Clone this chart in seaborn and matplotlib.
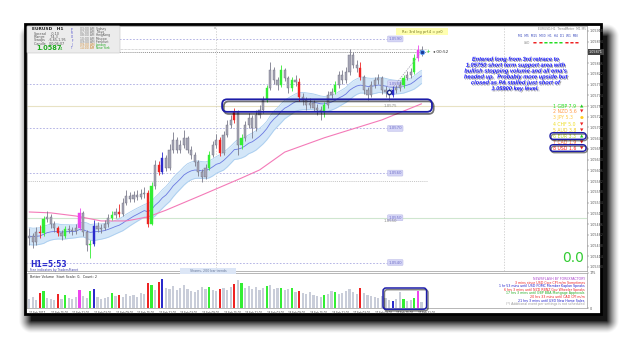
import numpy as np
import pandas as pd
import matplotlib
matplotlib.use('Agg')
import matplotlib.pyplot as plt
import matplotlib.patheffects as pe
from matplotlib.patches import FancyBboxPatch, Rectangle
from matplotlib.transforms import IdentityTransform
import seaborn as sns

# EURUSD H1 candles
first_open = 1.05455
closes = [1.05459, 1.05446, 1.05468, 1.05466, 1.05497, 1.05502, 1.05486, 1.05477, 1.05466, 1.05459,
          1.05475, 1.05473, 1.05470, 1.05477, 1.05511, 1.05468, 1.05439, 1.05441, 1.05482, 1.05475,
          1.05477, 1.05486, 1.05500, 1.05506, 1.05513, 1.05509, 1.05533, 1.05549, 1.05542, 1.05551,
          1.05547, 1.05553, 1.05556, 1.05486, 1.05571, 1.05618, 1.05602, 1.05634, 1.05611, 1.05652,
          1.05674, 1.05652, 1.05663, 1.05679, 1.05652, 1.05641, 1.05625, 1.05602, 1.05591, 1.05611,
          1.05641, 1.05663, 1.05674, 1.05645, 1.05685, 1.05708, 1.05719, 1.05737, 1.05663, 1.05679,
          1.05708, 1.05723, 1.05701, 1.05730, 1.05741, 1.05764, 1.05790, 1.05831, 1.05808, 1.05797,
          1.05831, 1.05813, 1.05790, 1.05808, 1.05804, 1.05770, 1.05764, 1.05752, 1.05757, 1.05746,
          1.05741, 1.05737, 1.05752, 1.05775, 1.05781, 1.05797, 1.05819, 1.05808, 1.05826, 1.05864,
          1.05842, 1.05835, 1.05815, 1.05786, 1.05775, 1.05797, 1.05808, 1.05813, 1.05786, 1.05781,
          1.05775, 1.05786, 1.05790, 1.05797, 1.05813, 1.05819, 1.05826, 1.05857, 1.05875, 1.05871]
highs = [1.05478, 1.05465, 1.05480, 1.05485, 1.05505, 1.05515, 1.05508, 1.05492, 1.05482, 1.05472,
         1.05482, 1.05484, 1.05480, 1.05486, 1.05522, 1.05515, 1.05472, 1.05450, 1.05495, 1.05490,
         1.05486, 1.05494, 1.05508, 1.05515, 1.05522, 1.05530, 1.05545, 1.05562, 1.05558, 1.05560,
         1.05562, 1.05564, 1.05568, 1.05562, 1.05580, 1.05630, 1.05628, 1.05647, 1.05640, 1.05665,
         1.05692, 1.05680, 1.05675, 1.05696, 1.05684, 1.05660, 1.05648, 1.05630, 1.05610, 1.05620,
         1.05650, 1.05672, 1.05688, 1.05680, 1.05695, 1.05718, 1.05730, 1.05745, 1.05742, 1.05688,
         1.05716, 1.05735, 1.05730, 1.05740, 1.05752, 1.05772, 1.05798, 1.05849, 1.05838, 1.05815,
         1.05842, 1.05836, 1.05818, 1.05816, 1.05820, 1.05812, 1.05780, 1.05770, 1.05768, 1.05764,
         1.05754, 1.05750, 1.05760, 1.05784, 1.05790, 1.05806, 1.05828, 1.05830, 1.05838, 1.05878,
         1.05870, 1.05852, 1.05848, 1.05820, 1.05792, 1.05805, 1.05816, 1.05822, 1.05818, 1.05794,
         1.05790, 1.05795, 1.05798, 1.05805, 1.05820, 1.05828, 1.05834, 1.05866, 1.05887, 1.05884]
lows = [1.05440, 1.05432, 1.05440, 1.05455, 1.05460, 1.05490, 1.05478, 1.05468, 1.05460, 1.05450,
        1.05455, 1.05465, 1.05462, 1.05464, 1.05472, 1.05460, 1.05425, 1.05410, 1.05438, 1.05468,
        1.05466, 1.05472, 1.05480, 1.05494, 1.05500, 1.05502, 1.05505, 1.05528, 1.05535, 1.05536,
        1.05540, 1.05542, 1.05545, 1.05480, 1.05484, 1.05565, 1.05595, 1.05598, 1.05604, 1.05606,
        1.05646, 1.05645, 1.05644, 1.05656, 1.05645, 1.05632, 1.05616, 1.05594, 1.05580, 1.05586,
        1.05606, 1.05635, 1.05656, 1.05638, 1.05640, 1.05680, 1.05700, 1.05712, 1.05641, 1.05655,
        1.05672, 1.05700, 1.05679, 1.05695, 1.05724, 1.05735, 1.05758, 1.05785, 1.05800, 1.05786,
        1.05792, 1.05805, 1.05780, 1.05784, 1.05795, 1.05762, 1.05752, 1.05742, 1.05745, 1.05738,
        1.05730, 1.05719, 1.05725, 1.05746, 1.05768, 1.05776, 1.05790, 1.05800, 1.05802, 1.05820,
        1.05835, 1.05826, 1.05808, 1.05776, 1.05764, 1.05770, 1.05790, 1.05800, 1.05778, 1.05770,
        1.05764, 1.05770, 1.05780, 1.05784, 1.05790, 1.05808, 1.05812, 1.05822, 1.05850, 1.05862]
volumes = [45, 55, 40, 75, 85, 50, 45, 40, 70, 45,
           65, 50, 45, 55, 90, 60, 50, 85, 95, 55,
           45, 50, 55, 75, 60, 65, 55, 70, 60, 65,
           55, 75, 70, 125, 115, 90, 130, 145, 100, 95,
           110, 90, 100, 115, 95, 85, 80, 90, 105, 95,
           105, 90, 85, 95, 100, 90, 105, 120, 140, 125,
           100, 110, 95, 105, 90, 100, 110, 115, 95, 100,
           100, 90, 95, 100, 80, 85, 75, 70, 80, 65,
           60, 55, 65, 70, 85, 80, 70, 75, 85, 95,
           80, 70, 100, 75, 65, 60, 55, 50, 60, 50,
           40, 35, 45, 80, 45, 35, 40, 50, 85, 30]

# volume-signal bars (index of candle)
green_bars = [4, 10, 17, 23, 34, 50, 59, 66, 70, 73, 82, 85, 104, 107]
red_bars = [3, 8, 25, 33, 36, 53, 57, 75, 92]
blue_bars = [18, 37, 101]
pink_bars = [14, 108]

# slow (200) ema
ema200_idx = [0, 6, 13, 20, 27, 33, 38, 48, 59, 64, 71, 82, 98, 109]
ema200_val = [1.05513, 1.05511, 1.05504, 1.05493, 1.05493, 1.05502, 1.05517, 1.05551,
              1.05589, 1.05607, 1.05647, 1.05679, 1.05719, 1.05755]

grid_levels = [1.0590, 1.0580, 1.0570, 1.0560, 1.0550, 1.0540]
key_level = 1.05750
green_level = 1.05500
extra_level = 1.05582
day_breaks = [52, 132]
entry_idx = 100
entry_price = 1.05781

date_labels = ['21 Feb 2017', '21 Feb 15:00', '21 Feb 21:00', '22 Feb 03:00', '22 Feb 09:00',
               '22 Feb 15:00', '22 Feb 21:00', '23 Feb 03:00', '23 Feb 09:00', '23 Feb 15:00',
               '23 Feb 21:00', '24 Feb 03:00', '24 Feb 09:00', '24 Feb 15:00', '24 Feb 21:00',
               '27 Feb 03:00', '27 Feb 09:00', '27 Feb 15:00', '27 Feb 21:00']

cur_names = ['GBP', 'NZD', 'JPY', 'CHF', 'AUD', 'EUR', 'CAD', 'USD']
cur_vals = [7.9, 5.6, 5.3, 5.0, 3.8, 3.3, 1.9, 1.6]
cur_arrows = ['▲', '▼', '●', '▼', '▼', '▲', '▼', '▼']
cur_colors = ['#22dd22', '#ff9944', '#ffcc44', '#eedd22', '#eecc22', '#bbdd22', '#ff6633', '#ff2222']

news = ['NEWSFLASH BY FOREXFACTORY',
        '3 mins since USD Core CPI m/m Sometimes',
        '1 hr 53 mins until USD FOMC Member Kaplan Speaks',
        '6 hrs 3 mins until NZD RBNZ Gov Wheeler Speaks',
        '17 hrs 3 mins until GBP BBA Mortgage Approvals',
        '20 hrs 33 mins until CAD CPI m/m',
        '21 hrs 3 mins until USD New Home Sales',
        '(*) Additional event per settings is not scheduled']
news_colors = ['#aa44cc', '#ee2222', '#2222cc', '#ee2222', '#22aa22', '#ee2222', '#2222cc', '#999999']

W, H = 625, 340
sns.set_style('white')
plt.rcParams['font.family'] = ['DejaVu Sans']

fig = plt.figure(figsize=(W / 100, H / 100), dpi=100)
fig.patch.set_facecolor('white')


def fpos(x, y):
    return x / W, 1 - y / H


def ftext(x, y, s, **kw):
    fx, fy = fpos(x, y)
    fig.text(fx, fy, s, **kw)


def pix_box(x0, y0, x1, y1, **kw):
    # rounded box given in screen pixels (y down)
    p = FancyBboxPatch((x0, H - y1), x1 - x0, y1 - y0, transform=IdentityTransform(), **kw)
    fig.add_artist(p)
    return p


def data_box(axis, x0, x1, y0, y1, **kw):
    a, b = axis.transData.transform((x0, y0))
    c, d = axis.transData.transform((x1, y1))
    p = FancyBboxPatch((a, b), c - a, d - b, transform=IdentityTransform(), **kw)
    fig.add_artist(p)
    return p


# drop shadow behind the frame
sh = fig.add_axes([0, 0, 1, 1], zorder=-5)
yy, xx = np.mgrid[0:H, 0:W]
dx = np.maximum(np.maximum(31 - xx, 0), xx - 606)
dy = np.maximum(np.maximum(36 - yy, 0), yy - 320)
dist = np.hypot(dx, dy)
img = np.zeros((H, W, 4))
img[..., 3] = 0.92 * np.clip(1 - dist / 13.0, 0, 1) ** 1.4
sh.imshow(img, aspect='auto', extent=(0, W, H, 0))
sh.set_xlim(0, W)
sh.set_ylim(H, 0)
sh.axis('off')

frame = Rectangle(fpos(25, 314), 576 / W, 290 / H, transform=fig.transFigure,
                  facecolor='white', edgecolor='black', lw=2, zorder=-4)
fig.add_artist(frame)

ax = fig.add_axes([27 / W, 1 - 271 / H, 560 / W, 245 / H])
vax = fig.add_axes([27 / W, 1 - 308 / H, 560 / W, 35 / H])

n = len(closes)
x = np.arange(n)
c = np.array(closes)
o = np.r_[first_open, c[:-1]]
hi = np.array(highs)
lo = np.array(lows)

colors = ['#a4a4b4'] * n
vcolors = ['#c9cdd9'] * n
for idx_list, col in [(green_bars, '#33ee33'), (red_bars, '#ee2222'),
                      (blue_bars, '#2a2acc'), (pink_bars, '#ee44ee')]:
    for i in idx_list:
        colors[i] = col
        vcolors[i] = col

# ema band on highs / lows and ema of closes
df = pd.DataFrame({'x': x, 'close': c, 'high': hi, 'low': lo})
ema_hi = df.high.ewm(span=20, adjust=False).mean()
ema_lo = df.low.ewm(span=20, adjust=False).mean()
df['ema'] = df.close.ewm(span=20, adjust=False).mean()
ax.fill_between(x, ema_lo, ema_hi, color='#d3e6f8', lw=0, zorder=1)
ax.plot(x, ema_hi, color='#a9cdef', lw=0.6, zorder=1)
ax.plot(x, ema_lo, color='#a9cdef', lw=0.6, zorder=1)
sns.lineplot(data=df, x='x', y='ema', color='#6a78e0', lw=0.6, ax=ax, zorder=2)
sns.lineplot(x=ema200_idx, y=ema200_val, color='#f47ab8', lw=0.8, ax=ax, zorder=2)

# levels
for lv in grid_levels:
    ax.hlines(lv, -1, 99.6, color='#a8a8e0', lw=0.6, linestyles=(0, (2, 2)), zorder=0)
    ax.text(99.8, lv, f'{lv:.4f}', fontsize=2.8, color='#6f6fc8', va='center', ha='left',
            bbox=dict(boxstyle='round,pad=0.25', fc='#d6d6f6', ec='#b4b4e4', lw=0.3))
ax.axhline(key_level, color='#e8e2c4', lw=0.8, zorder=0)
ax.axhline(green_level, color='#cfe6cf', lw=0.8, zorder=0)
ax.text(98.5, key_level, '1.0575', fontsize=2.8, color='#888888', va='center', ha='left')
ax.text(98.5, green_level - 0.00008, '1.0550', fontsize=2.8, color='#888888', va='center', ha='left')
ax.hlines(extra_level, -1, 110.5, color='#b0b0b0', lw=0.5, linestyles=(0, (1.5, 1.5)), zorder=0)
ax.hlines(c[-1], -1, 110.5, color='#909090', lw=0.7, linestyles=(0, (1, 1)), zorder=0)
ax.hlines(c[-1] + 0.00006, -1, 110.5, color='#b0b0b0', lw=0.5, linestyles=(0, (1, 1)), zorder=0)
for d in day_breaks:
    ax.axvline(d, color='#c4c4c4', lw=0.5, ls=(0, (2, 2)), zorder=0)

# candles
ax.vlines(x, lo, hi, color=['#7a7a8a' if col == '#a4a4b4' else col for col in colors], lw=0.6, zorder=3)
body_lo = np.minimum(o, c)
body_h = np.maximum(np.abs(c - o), 0.00002)
ax.bar(x, body_h, bottom=body_lo, width=0.62, color=colors,
       edgecolor=['#707080' if col == '#a4a4b4' else col for col in colors], lw=0.3, zorder=4)

# entry / current markers
ax.plot([entry_idx, n - 1], [entry_price, c[-1]], color='#9a9aa8', lw=0.5, ls=(0, (2, 1.5)), zorder=5)
ax.scatter([entry_idx], [entry_price], s=9, facecolor='white', edgecolor='#1a2a8a', lw=1.0, zorder=6)
ax.scatter([n - 1], [c[-1]], s=10, facecolor='#1a3a9a', edgecolor='#66aaff', lw=0.6, zorder=6)
ax.text(n + 0.8, c[-1], '+', fontsize=4, color='#22cc22', va='center', ha='center', zorder=6)
ax.text(n + 2.3, c[-1], '◂ 00:52', fontsize=3, color='#333333', va='center', ha='left')

ax.set_xlim(-0.6, 154.96)
ax.set_ylim(1.05381, 1.05929)
ax.yaxis.tick_right()
ax.set_yticks(np.arange(1.05390, 1.05929, 0.00024))
ax.yaxis.set_major_formatter(matplotlib.ticker.FormatStrFormatter('%.5f'))
ax.tick_params(axis='y', labelsize=2.4, length=1.2, width=0.3, pad=0.8, colors='#555555')
ax.set_xticks([])
ax.set_xlabel('')
ax.set_ylabel('')
for sp in ax.spines.values():
    sp.set_color('#9a9a9a')
    sp.set_linewidth(0.5)
ax.annotate(f'{c[-1]:.5f}', xy=(1.0, c[-1]), xycoords=('axes fraction', 'data'),
            xytext=(1.5, 0), textcoords='offset points', fontsize=2.4, color='white',
            va='center', ha='left', bbox=dict(boxstyle='square,pad=0.2', fc='#444444', ec='none'))

# volume panel
vax.bar(x, volumes, width=0.62, color=vcolors, lw=0)
vax.set_xlim(ax.get_xlim())
vax.set_ylim(0, 175)
vax.yaxis.tick_right()
vax.set_yticks([0, 175])
vax.tick_params(axis='y', labelsize=2.4, length=1.2, width=0.3, pad=0.8, colors='#555555')
vax.set_xticks(np.arange(0, 6 * len(date_labels), 6))
vax.set_xticklabels(date_labels, fontsize=1.9, color='#333333', ha='left')
vax.tick_params(axis='x', length=1.2, width=0.3, pad=0.6)
for sp in vax.spines.values():
    sp.set_color('#9a9a9a')
    sp.set_linewidth(0.5)

# highlight boxes
key_box = data_box(ax, 53.6, 111.9, 1.05737, 1.05765,
                   boxstyle='round,pad=0,rounding_size=5', fc='none', ec='#1c1ca8', lw=1.3, zorder=8)
key_box.set_path_effects([pe.SimpleLineShadow(offset=(1.2, -1.5), shadow_color='black', alpha=0.55),
                          pe.Normal()])
vbox = data_box(vax, 98.3, 110.4, -6, 100,
                boxstyle='round,pad=0,rounding_size=3', fc='none', ec='#1c1ca8', lw=1.1, zorder=8)
vbox.set_path_effects([pe.SimpleLineShadow(offset=(1, -1.2), shadow_color='black', alpha=0.5), pe.Normal()])

# info panel top-left
pix_box(27, 26, 120, 53, boxstyle='round,pad=0,rounding_size=1', fc='#ececec', ec='#c4c4c4', lw=0.4, zorder=6)
ftext(32, 29.5, 'EURUSD   H1', fontsize=3.2, fontweight='bold', color='#222222', va='center', zorder=7)
for k, s in enumerate(['Spread     0.10', 'Range     74.3', 'Swaps   -6.65,1.95', 'Candle   00:06:07']):
    ftext(34, 33.5 + 3.4 * k, s, fontsize=2.4, color='#555555', va='center', zorder=7)
ftext(36, 48.5, '1.0587', fontsize=4.8, color='#1faa1f', fontweight='bold', va='center', zorder=7)
ftext(60, 49, '4', fontsize=2.8, color='#1faa1f', va='center', zorder=7)
ftext(72, 39, 'P\nR\nO\nF\nI\nT', fontsize=2.0, color='#4444cc', va='center', ha='center',
      linespacing=0.9, zorder=7)
sessions = ['Sydney', 'Tokyo', 'HongKong', 'Moscow', 'Frankfurt', 'London', 'New York']
times = ['03:00 AM', '07:00 AM', '08:00 AM', '10:00 AM', '09:00 AM', '09:00 AM', '14:00 AM']
for k, (s, t) in enumerate(zip(sessions, times)):
    col = '#22aa22' if k >= 5 else '#555555'
    ftext(80, 29 + 3.2 * k, t, fontsize=2.2, color='#777777' if k < 5 else '#cc8833', va='center', zorder=7)
    ftext(96, 29 + 3.2 * k, s, fontsize=2.2, color=col, va='center', zorder=7)

# top labels
pix_box(396, 28, 448, 35, boxstyle='square,pad=0', fc='#ffffb0', ec='none', zorder=6)
ftext(422, 31.5, 'Rx: 3rd leg prf.4 = pr0', fontsize=2.6, color='#777722', ha='center', va='center', zorder=7)
ftext(215, 28, 'x', fontsize=2.5, color='#888888', ha='center', va='center')
ftext(586, 28.5, 'EURUSD,H1  TrendMeter  M1 M5', fontsize=2.2, color='#888888', ha='right', va='center')
ftext(578, 36, 'M1  M5  M15  M30  H1  H4  D1  W1  MN', fontsize=2.2, color='#3344bb', ha='right', va='center')
ftext(524, 43, 'USD', fontsize=2.2, color='#888888', ha='left', va='center')
dash_cols = ['#ee2222', '#ee2222', '#22dd22', '#22dd22', '#22dd22', '#22dd22', '#ee2222', '#ee2222', '#ee2222']
for k, col in enumerate(dash_cols):
    ftext(533 + 5.2 * k, 42.5, '▬', fontsize=3, color=col, ha='left', va='center')

# trade comment
comment = ("Entered long from 3rd retrace to\n1.05750 short term support area with\n"
           "bullish stopping volume and all ema's\nheaded up.  Probably more upside but\n"
           "closed as PA stalled just short of\n1.05900 key level.")
ftext(515, 74, comment, fontsize=4.1, color='#1a1aff', fontweight='bold', fontstyle='italic',
      family='Liberation Sans', ha='center', va='center', linespacing=1.22,
      path_effects=[pe.withSimplePatchShadow(offset=(0.8, -0.8), shadow_rgbFace='#555555', alpha=0.6)])

# currency strength
for k, (nm, v, ar, col) in enumerate(zip(cur_names, cur_vals, cur_arrows, cur_colors)):
    yk = 106 + 6.0 * k
    ftext(553, yk, f'{k + 1} {nm} {v:.1f}', fontsize=3.3, color=col, va='center', ha='left')
    acol = '#22cc22' if ar == '▲' else ('#ffcc22' if ar == '●' else '#ee2222')
    ftext(582, yk, ar, fontsize=3.2, color=acol, va='center', ha='center')
for yk in (106 + 6.0 * 5, 106 + 6.0 * 7):
    b = pix_box(550, yk - 3.3, 586, yk + 3.3, boxstyle='round,pad=0,rounding_size=3.3',
                fc='none', ec='#1c1ca8', lw=1.0, zorder=8)
    b.set_path_effects([pe.SimpleLineShadow(offset=(0.8, -1), shadow_color='black', alpha=0.5), pe.Normal()])

ftext(573, 258, '0.0', fontsize=10, color='#33cc33', ha='center', va='center')

# bottom-left labels
ftext(30, 264.5, 'H1=5:53', fontsize=5.5, color='#2a2acc', va='center', fontweight='bold')
ftext(30, 270, 'Free indicators by TradersPlanet', fontsize=2.2, color='#4444aa', va='center')
pix_box(180, 268, 236, 274, boxstyle='square,pad=0', fc='#dce6f6', ec='none', zorder=6)
ftext(208, 271, 'Shares, 200 bar trends', fontsize=2.3, color='#667799', ha='center', va='center', zorder=7)
ftext(30, 277, 'Better Volume  Start Scale: 0,  Count: 2', fontsize=2.4, color='#333333', va='center')

for k, (s, col) in enumerate(zip(news, news_colors)):
    ftext(585, 279 + 3.6 * k, s, fontsize=2.3, color=col, ha='right', va='center')

fig.savefig('out.png', dpi=100)
